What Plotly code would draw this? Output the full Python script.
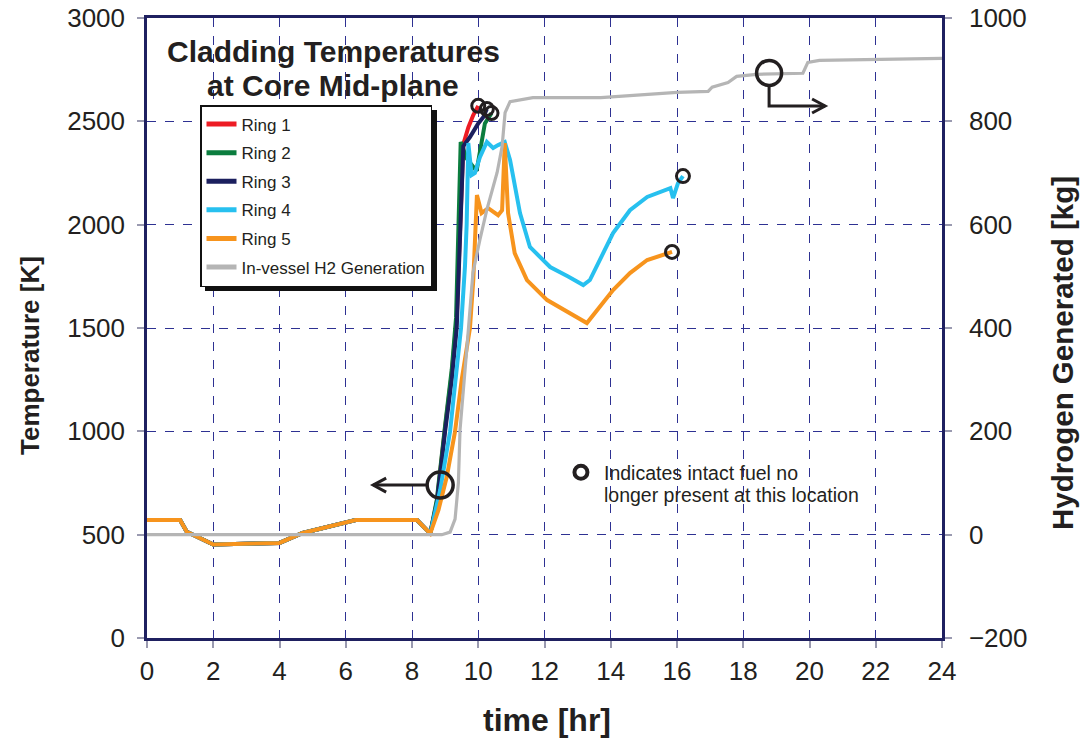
import plotly.graph_objects as go

# ---------------- data ----------------
base_t = [0, 1.0, 1.2, 1.5, 1.8, 2.0, 4.0, 4.7, 6.3, 8.15, 8.55]
base_T = [571, 571, 514, 490, 466, 452, 460, 508, 571, 571, 505]

ring1_t = base_t + [8.75, 9.0, 9.2, 9.35, 9.45, 9.55, 9.7, 9.85, 10.0]
ring1_T = base_T + [660, 1020, 1280, 1550, 2000, 2390, 2470, 2530, 2575]

ring2_t = base_t + [8.75, 9.0, 9.2, 9.33, 9.42, 9.47, 9.65, 9.95, 10.2, 10.4]
ring2_T = base_T + [670, 1030, 1300, 1550, 2000, 2400, 2320, 2260, 2490, 2540]

ring3_t = base_t + [8.75, 9.0, 9.2, 9.35, 9.48, 9.55, 9.75, 10.0, 10.15, 10.26]
ring3_T = base_T + [650, 1000, 1250, 1500, 2000, 2380, 2424, 2490, 2520, 2560]

ring4_t = base_t + [8.85, 9.15, 9.3, 9.48, 9.6, 9.65, 9.7, 9.8, 9.9, 10.05, 10.26,
                    10.45, 10.6, 10.8, 10.96, 11.26, 11.56, 12.17, 12.7, 13.17,
                    13.37, 14.07, 14.58, 15.1, 15.8, 15.88, 16.03, 16.18]
ring4_T = base_T + [716, 1000, 1250, 1500, 1800, 2000, 2395, 2240, 2250, 2327, 2400,
                    2371, 2385, 2400, 2313, 2056, 1892, 1795, 1750, 1708,
                    1732, 1959, 2070, 2134, 2177, 2129, 2201, 2235]

ring5_t = base_t + [8.8, 9.05, 9.3, 9.5, 9.75, 9.85, 9.93, 9.96, 10.1, 10.3, 10.6,
                    10.72, 10.8, 10.9, 11.1, 11.47, 12.08, 12.7, 13.28, 14.07,
                    14.58, 15.1, 15.85]
ring5_T = base_T + [620, 780, 1000, 1250, 1500, 1732, 2000, 2143, 2056, 2080, 2046,
                    2070, 2395, 2056, 1862, 1732, 1635, 1575, 1524, 1684,
                    1766, 1829, 1868]

h2_t = [0, 8.9, 9.15, 9.3, 9.4, 9.45, 9.66, 9.84, 10.05, 10.26, 10.57, 10.72, 10.81,
        10.96, 11.65, 13.7, 16.0, 16.94, 17.06, 17.54, 17.8, 18.4, 19.8, 19.95,
        20.3, 24.0]
h2_kg = [0, 0, 5, 30, 100, 203, 364, 507, 571, 629, 701, 751, 817,
         838, 846, 846, 856, 858, 866, 875, 887, 891, 893, 914,
         918, 922]

ring_names = ["Ring 1", "Ring 2", "Ring 3", "Ring 4", "Ring 5"]
ring_colors = ["#ed1c24", "#0b7d3e", "#1b1f5e", "#27c0ef", "#f7941d"]
h2_name = "In-vessel H2 Generation"
h2_color = "#b5b5b5"

x_ticks = list(range(0, 25, 2))
title_lines = ["Cladding Temperatures", "at Core Mid-plane"]
note_lines = ["Indicates intact fuel no", "longer present at this location"]

# ---------------- figure ----------------
FONT = "Liberation Sans, Arial, sans-serif"
TXT = "#231f20"
NAVY = "#1f2060"
GRID = "#2e3192"

rings = [(ring1_t, ring1_T), (ring2_t, ring2_T), (ring3_t, ring3_T),
         (ring4_t, ring4_T), (ring5_t, ring5_T)]

fig = go.Figure()
for (tt, TT), nm, col in zip(rings, ring_names, ring_colors):
    fig.add_trace(go.Scatter(x=tt, y=TT, mode="lines", name=nm,
                             line=dict(color=col, width=4),
                             legendgroup=nm))

fig.add_trace(go.Scatter(x=h2_t, y=h2_kg, mode="lines", name=h2_name,
                         line=dict(color=h2_color, width=3.2),
                         legendgroup="h2", yaxis="y2"))

# end-of-intact-fuel markers at the last point of each ring
end_t = [r[0][-1] for r in rings]
end_T = [r[1][-1] for r in rings]
fig.add_trace(go.Scatter(x=end_t, y=end_T, mode="markers", showlegend=False,
                         marker=dict(symbol="circle-open", size=13,
                                     color="#231f20", line=dict(width=3))))

# note marker
note_t, note_T = 13.1, 802
fig.add_trace(go.Scatter(x=[note_t], y=[note_T], mode="markers", showlegend=False,
                         marker=dict(symbol="circle-open", size=13,
                                     color="#231f20", line=dict(width=4))))

# arrows with circles (pixel-sized paths anchored in data coords)
ARROW = "#231f20"
def circ(xa, ya, r):
    return dict(type="circle", xref="x", yref="y", xsizemode="pixel", ysizemode="pixel",
                xanchor=xa, yanchor=ya, x0=-r, x1=r, y0=-r, y1=r,
                line=dict(color=ARROW, width=3.5), layer="above")

def path(xa, ya, d, w=3):
    return dict(type="path", xref="x", yref="y", xsizemode="pixel", ysizemode="pixel",
                xanchor=xa, yanchor=ya, path=d,
                line=dict(color=ARROW, width=w), layer="above")

left_c = (8.85, 740)
right_c = (18.78, 2734)
shapes = [
    circ(*left_c, 13),
    path(*left_c, "M -13 0 L -67 0"),
    path(*left_c, "M -54 7 L -67 0 L -54 -7", 3),
    circ(*right_c, 12.5),
    path(*right_c, "M 0 -13 L 0 -33 L 56 -33"),
    path(*right_c, "M 43 -26 L 56 -33 L 43 -40", 3),
]

W, H = 1088, 742
ML, MR, MT, MB = 147, 146, 18, 104
pw, ph = W - ML - MR, H - MT - MB

def px2paper(px, py):
    return (px - ML) / pw, (H - MB - py) / ph

# legend shadow
sx0, sy0 = px2paper(205, 110)
sx1, sy1 = px2paper(437, 291)
shapes.append(dict(type="rect", xref="paper", yref="paper",
                   x0=sx0, x1=sx1, y0=sy1, y1=sy0,
                   fillcolor="#111111", line=dict(width=0), layer="above"))

lx, ly = px2paper(200, 105)

annotations = []
for i, line in enumerate(title_lines):
    ax_, ay_ = px2paper(333, 52 + 34 * i)
    annotations.append(dict(x=ax_, y=ay_, xref="paper", yref="paper", text=line,
                            showarrow=False, xanchor="center", yanchor="middle",
                            font=dict(family=FONT, size=30, color=TXT, weight="bold")))
for i, line in enumerate(note_lines):
    ax_, ay_ = px2paper(602, 473 + 22 * i)
    annotations.append(dict(x=ax_, y=ay_, xref="paper", yref="paper", text=line,
                            showarrow=False, xanchor="left", yanchor="middle",
                            font=dict(family=FONT, size=19.5, color=TXT)))
# axis titles
p = px2paper(547, 720)
annotations.append(dict(x=p[0], y=p[1], xref="paper", yref="paper",
                        text="time [hr]", showarrow=False, xanchor="center", yanchor="middle",
                        font=dict(family=FONT, size=32, color=TXT, weight="bold")))
p = px2paper(30, 356)
annotations.append(dict(x=p[0], y=p[1], xref="paper", yref="paper",
                        text="Temperature [K]", showarrow=False, textangle=-90,
                        xanchor="center", yanchor="middle",
                        font=dict(family=FONT, size=26, color=TXT, weight="bold")))
p = px2paper(1062, 353)
annotations.append(dict(x=p[0], y=p[1], xref="paper", yref="paper",
                        text="Hydrogen Generated [kg]", showarrow=False, textangle=-90,
                        xanchor="center", yanchor="middle",
                        font=dict(family=FONT, size=29.5, color=TXT, weight="bold")))

axis_common = dict(showline=True, linecolor=NAVY, linewidth=2.5, zeroline=False,
                   ticks="outside", ticklen=7, tickcolor="#9a9ab0", tickwidth=1.5,
                   automargin=False, ticklabeloverflow="allow",
                   tickfont=dict(family=FONT, size=26, color=TXT))

fig.update_layout(
    width=W, height=H,
    margin=dict(l=ML, r=MR, t=MT, b=MB, autoexpand=False),
    paper_bgcolor="white", plot_bgcolor="white",
    font=dict(family=FONT, color=TXT),
    xaxis=dict(range=[0, 24], tickvals=x_ticks, showgrid=True, gridcolor=GRID,
               griddash="dash", gridwidth=1, mirror=True, ticklabelstandoff=1,
               **axis_common),
    yaxis=dict(range=[0, 3000], dtick=500, showgrid=True, gridcolor=GRID,
               griddash="dash", gridwidth=1, mirror=True, ticklabelstandoff=7,
               **axis_common),
    yaxis2=dict(range=[-200, 1000], dtick=200, overlaying="y", side="right",
                showgrid=False, ticklabelstandoff=12, **axis_common),
    legend=dict(x=lx, y=ly, xanchor="left", yanchor="top",
                bgcolor="white", bordercolor="#111111", borderwidth=1.5,
                font=dict(family=FONT, size=17, color=TXT),
                tracegroupgap=3.5, itemsizing="constant"),
    shapes=shapes,
    annotations=annotations,
    showlegend=True,
)

# remove the default 8px page margin so the figure fills the window exactly
fig.write_html("out.html",
               config={"displayModeBar": False},
               post_script="document.body.style.margin='0';"
                           "document.body.style.overflow='hidden';")
